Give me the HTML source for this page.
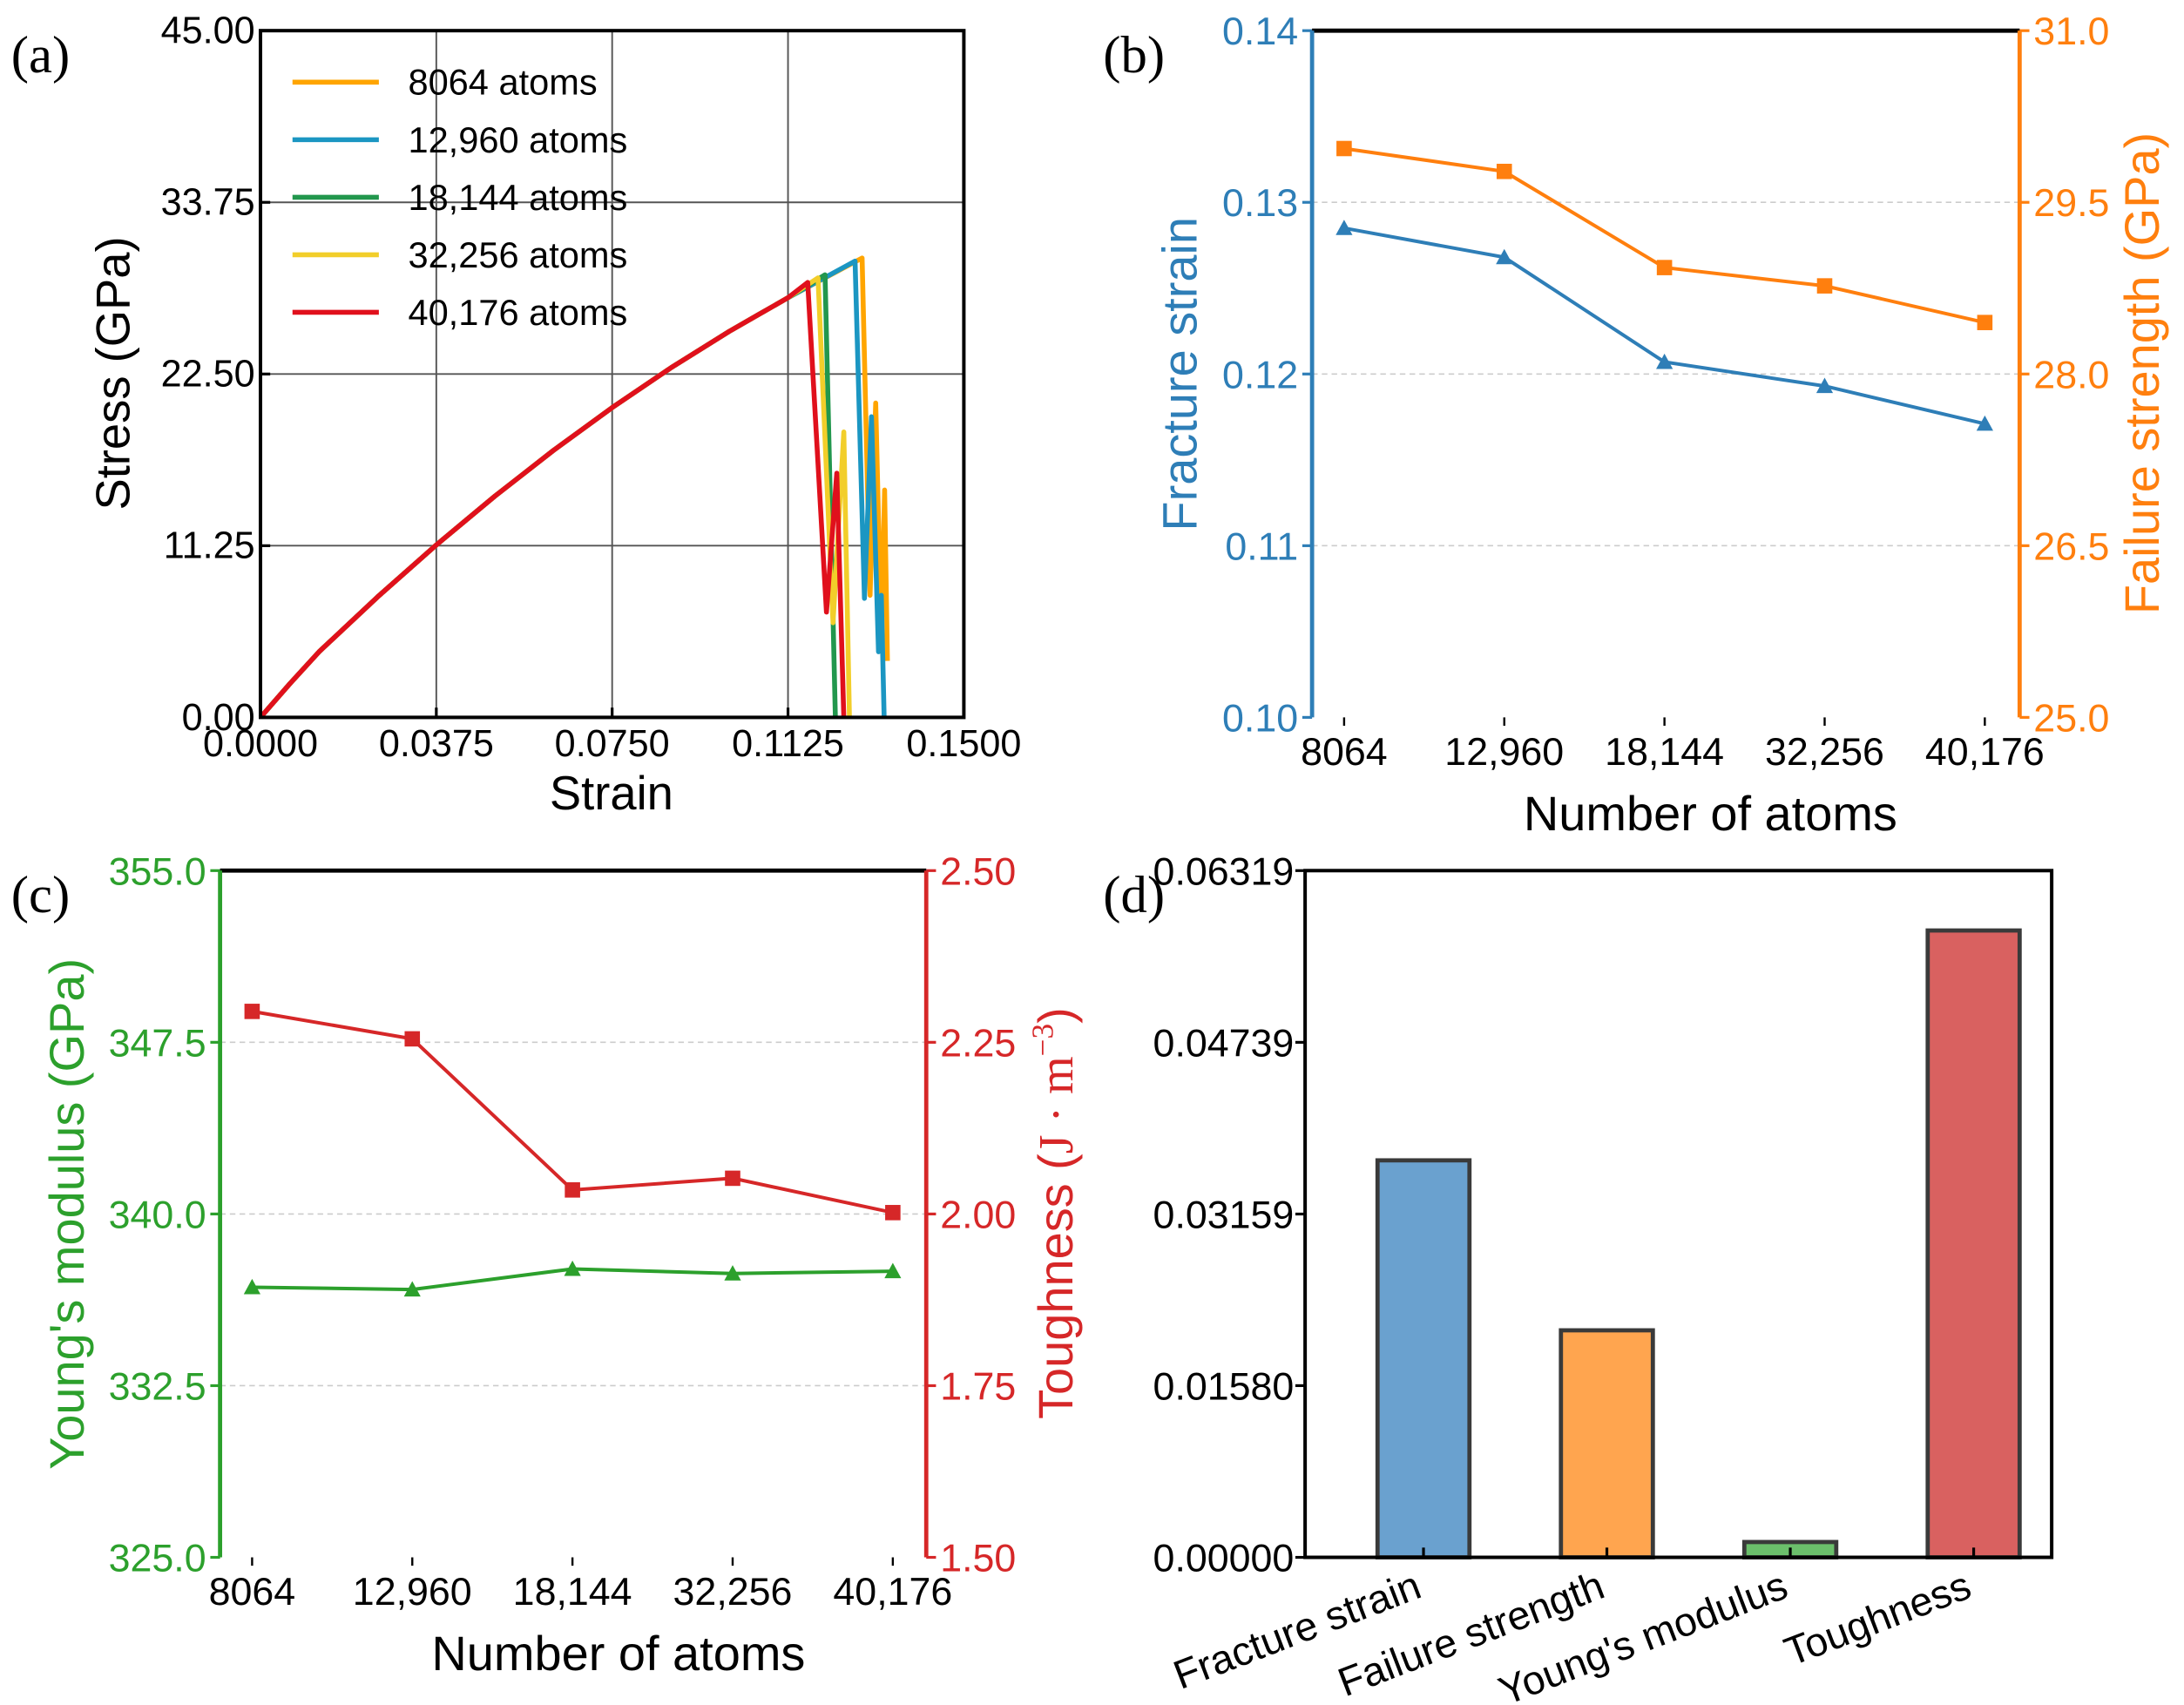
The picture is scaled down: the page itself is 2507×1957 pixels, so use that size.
<!DOCTYPE html>
<html><head><meta charset="utf-8"><style>
html,body{margin:0;padding:0;background:#fff;}
svg{display:block;font-family:"Liberation Sans",sans-serif;}
</style></head><body>
<svg id="fig" width="2507" height="1957" viewBox="0 0 1568 1224" preserveAspectRatio="none" xmlns="http://www.w3.org/2000/svg">
<g id="pa"></g>
<g id="pb"></g>
<g id="pc"></g>
<g id="pd"></g>
</svg>
<script>
// ---------- Panel (a) data ----------
const aRiseStrain = [0,0.00625,0.0125,0.01875,0.025,0.03125,0.0375,0.04375,0.05,0.05625,0.0625,0.06875,0.075,0.08125,0.0875,0.09375,0.1,0.10625,0.1125];
const aRiseStress = [0,2.2,4.3,6.1,7.9,9.6,11.3,12.9,14.5,16.0,17.5,18.9,20.3,21.6,22.9,24.1,25.3,26.4,27.5];
const aSeriesNames = ["8064 atoms","12,960 atoms","18,144 atoms","32,256 atoms","40,176 atoms"];
const aStrain8064 = [0.1283,0.1300,0.1312,0.1324,0.1331,0.1337];
const aStress8064 = [30.1,8.0,20.6,5.2,14.9,3.7];
const aStrain12960 = [0.1268,0.1288,0.1303,0.1318,0.1324,0.1330];
const aStress12960 = [29.9,7.8,19.7,4.3,8.0,0];
const aStrain18144 = [0.1204,0.1226];
const aStress18144 = [29.0,0];
const aStrain32256 = [0.1189,0.1221,0.1244,0.1256];
const aStress32256 = [28.8,6.2,18.7,0];
const aStrain40176 = [0.1167,0.1207,0.1229,0.1244];
const aStress40176 = [28.5,6.9,16.0,0];
const aXTicks = ["0.0000","0.0375","0.0750","0.1125","0.1500"];
const aYTicks = ["0.00","11.25","22.50","33.75","45.00"];
// ---------- Panel (b) data ----------
const atomCats = ["8064","12,960","18,144","32,256","40,176"];
const fractureStrain = [0.1285,0.1268,0.1207,0.1193,0.1171];
const failureStrength = [29.97,29.77,28.93,28.77,28.45];
const bLeftTicks = ["0.10","0.11","0.12","0.13","0.14"];
const bRightTicks = ["25.0","26.5","28.0","29.5","31.0"];
// ---------- Panel (c) data ----------
const youngsModulus = [336.8,336.7,337.6,337.4,337.5];
const toughness = [2.295,2.255,2.035,2.052,2.002];
const cLeftTicks = ["325.0","332.5","340.0","347.5","355.0"];
const cRightTicks = ["1.50","1.75","2.00","2.25","2.50"];
// ---------- Panel (d) data ----------
const dCats = ["Fracture strain","Failure strength","Young's modulus","Toughness"];
const dValues = [0.03653,0.02089,0.00141,0.05768];
const dTicks = ["0.00000","0.01580","0.03159","0.04739","0.06319"];

const NS="http://www.w3.org/2000/svg";
const SERIF='font-family:"Liberation Serif",serif';
function mk(parent,tag,attrs,txt){const e=document.createElementNS(NS,tag);for(const k in attrs)e.setAttribute(k,attrs[k]);if(txt!==undefined)e.textContent=txt;parent.appendChild(e);return e;}
function lin(d0,d1,r0,r1){return v=>r0+(v-d0)/(d1-d0)*(r1-r0);}

// ===== Panel A =====
(function(){
const g=document.getElementById('pa');
const L=187,R=692,T=22,B=515;
const x=lin(0,0.15,L,R), y=lin(0,45,B,T);
let e=mk(g,'text',{x:8,y:52,'font-size':38,style:SERIF},'(a)');

for(let i=0;i<aXTicks.length;i++){const v=parseFloat(aXTicks[i]);
 e=mk(g,'line',{x1:x(v),x2:x(v),y1:T,y2:B,stroke:'#555','stroke-width':1.2});
 e=mk(g,'line',{x1:x(v),x2:x(v),y1:B,y2:B-7,stroke:'#000','stroke-width':2});
 e=mk(g,'text',{x:x(v),y:B+28,'font-size':27,'text-anchor':'middle'},aXTicks[i]);}
for(let i=0;i<aYTicks.length;i++){const v=parseFloat(aYTicks[i]);
 e=mk(g,'line',{x1:L,x2:R,y1:y(v),y2:y(v),stroke:'#555','stroke-width':1.2});
 e=mk(g,'line',{x1:L,x2:L+7,y1:y(v),y2:y(v),stroke:'#000','stroke-width':2});
 e=mk(g,'text',{x:L-4,y:y(v)+9,'font-size':27,'text-anchor':'end'},aYTicks[i]);}
const colors=['#FFA500','#1B96C2','#22974D','#F2CE2A','#E0101C'];
const sx=[aStrain8064,aStrain12960,aStrain18144,aStrain32256,aStrain40176];
const sy=[aStress8064,aStress12960,aStress18144,aStress32256,aStress40176];
const names=['curve-8064','curve-12960','curve-18144','curve-32256','curve-40176'];
for(let s=0;s<5;s++){const pts=[];for(let i=0;i<aRiseStrain.length;i++)pts.push(x(aRiseStrain[i])+','+y(aRiseStress[i]));
 for(let i=0;i<sx[s].length;i++)pts.push(x(sx[s][i])+','+y(sy[s][i]));
 e=mk(g,'polyline',{points:pts.join(' '),fill:'none',stroke:colors[s],'stroke-width':3.5,'stroke-linejoin':'round'});
 }
e=mk(g,'rect',{x:L,y:T,width:R-L,height:B-T,fill:'none',stroke:'#000','stroke-width':2.5});
for(let s=0;s<5;s++){const ly=59+s*41.3;
 e=mk(g,'line',{x1:210,x2:272,y1:ly,y2:ly,stroke:colors[s],'stroke-width':3.5});
 e=mk(g,'text',{x:293,y:ly+9,'font-size':26},aSeriesNames[s]);}
e=mk(g,'text',{x:439,y:581,'font-size':34,'text-anchor':'middle'},'Strain');
e=mk(g,'text',{x:0,y:0,'font-size':34,'text-anchor':'middle',transform:'translate(93,268) rotate(-90)'},'Stress (GPa)');
})();

// ===== dual axis line panel =====
function dualPanel(gid,label,L,R,T,B,cx0,cx1,leftTicks,rightTicks,lv,rv,lc,rc,lTitle,lmark,rmark,lname,rname,lTitleX,xTitleX){
const g=document.getElementById(gid);
const lmin=parseFloat(leftTicks[0]),lmax=parseFloat(leftTicks[leftTicks.length-1]);
const rmin=parseFloat(rightTicks[0]),rmax=parseFloat(rightTicks[rightTicks.length-1]);
const yl=lin(lmin,lmax,B,T), yr=lin(rmin,rmax,B,T), x=lin(0,atomCats.length-1,cx0,cx1);
let e=mk(g,'text',{x:label[1],y:label[2],'font-size':38,style:SERIF},label[0]);

for(let i=0;i<leftTicks.length;i++){const v=parseFloat(leftTicks[i]);
 if(i>0&&i<leftTicks.length-1){e=mk(g,'line',{x1:L,x2:R,y1:yl(v),y2:yl(v),stroke:'#ccc','stroke-width':1,'stroke-dasharray':'4,3'});}
 e=mk(g,'line',{x1:L,x2:L-7,y1:yl(v),y2:yl(v),stroke:lc,'stroke-width':2});
 e=mk(g,'text',{x:L-10,y:yl(v)+10,'font-size':28,'text-anchor':'end',fill:lc},leftTicks[i]);}
for(let i=0;i<rightTicks.length;i++){const v=parseFloat(rightTicks[i]);
 e=mk(g,'line',{x1:R,x2:R+7,y1:yr(v),y2:yr(v),stroke:rc,'stroke-width':2});
 e=mk(g,'text',{x:R+10,y:yr(v)+10,'font-size':28,fill:rc},rightTicks[i]);}
for(let i=0;i<atomCats.length;i++){
 e=mk(g,'line',{x1:x(i),x2:x(i),y1:B,y2:B+6,stroke:'#000','stroke-width':1.5});
 e=mk(g,'text',{x:x(i),y:B+34,'font-size':28,'text-anchor':'middle'},atomCats[i]);}
e=mk(g,'line',{x1:L,x2:R,y1:T,y2:T,stroke:'#000','stroke-width':3});
e=mk(g,'line',{x1:L,x2:L,y1:T,y2:B,stroke:lc,'stroke-width':3});
e=mk(g,'line',{x1:R,x2:R,y1:T,y2:B,stroke:rc,'stroke-width':3});
function series(vals,ys,col,mark,name){const pts=vals.map((v,i)=>x(i)+','+ys(v)).join(' ');
 e=mk(g,'polyline',{points:pts,fill:'none',stroke:col,'stroke-width':2.5});
 vals.forEach((v,i)=>{const px=x(i),py=ys(v);
  if(mark==='tri')e=mk(g,'polygon',{points:(px-6)+','+(py+5)+' '+(px+6)+','+(py+5)+' '+px+','+(py-6),fill:col});
  else e=mk(g,'rect',{x:px-5.5,y:py-5.5,width:11,height:11,fill:col});
  });}
series(lv,yl,lc,lmark,lname);series(rv,yr,rc,rmark,rname);
e=mk(g,'text',{x:xTitleX,y:B+81,'font-size':35,'text-anchor':'middle'},'Number of atoms');
e=mk(g,'text',{x:0,y:0,'font-size':35,'text-anchor':'middle',fill:lc,transform:'translate('+lTitleX+','+(T+B)/2+') rotate(-90)'},lTitle);
}
dualPanel('pb',['(b)',792,52],942,1450,22,515,965,1425,bLeftTicks,bRightTicks,fractureStrain,failureStrength,'#2E7EB7','#FF7F0E','Fracture strain',
'tri','sq','fracture-strain','failure-strength',859,1228);
(function(){const g=document.getElementById('pb');const e=mk(g,'text',{x:0,y:0,'font-size':35,'text-anchor':'middle',fill:'#FF7F0E',transform:'translate(1550,268) rotate(-90)'},'Failure strength (GPa)');})();
dualPanel('pc',['(c)',8,655],158,665,625,1118,181,641,cLeftTicks,cRightTicks,youngsModulus,toughness,'#2CA02C','#D62728',"Young's modulus (GPa)",
'tri','sq','youngs-modulus','toughness',60,444);
(function(){const g=document.getElementById('pc');const t=mk(g,'text',{x:0,y:0,'font-size':35,'text-anchor':'middle',fill:'#D62728',transform:'translate(770,871) rotate(-90)'});

mk(t,'tspan',{},'Toughness (');mk(t,'tspan',{style:SERIF},'J · m');mk(t,'tspan',{style:SERIF,'font-size':22,dy:-14},'−3');mk(t,'tspan',{dy:14},')');})();

// ===== Panel D =====
(function(){
const g=document.getElementById('pd');
const L=937,R=1473,T=625,B=1118;
const dmax=parseFloat(dTicks[dTicks.length-1]);
const y=lin(0,dmax,B,T), x=lin(0,dCats.length-1,1022,1417);
let e=mk(g,'text',{x:792,y:655,'font-size':38,style:SERIF},'(d)');

const cols=['#6AA1CF','#FFA54F','#6BBF6B','#D96160'];
const names=['bar-fracture-strain','bar-failure-strength','bar-youngs-modulus','bar-toughness'];
for(let i=0;i<dCats.length;i++){const cx=x(i),w=66;
 e=mk(g,'rect',{x:cx-w/2,y:y(dValues[i]),width:w,height:B-y(dValues[i]),fill:cols[i],stroke:'#3a3a3a','stroke-width':3});
 
 e=mk(g,'line',{x1:cx,x2:cx,y1:B,y2:B-7,stroke:'#000','stroke-width':2});
 e=mk(g,'text',{x:0,y:0,'font-size':29,'text-anchor':'end',transform:'translate('+(cx)+','+(B+28)+') rotate(-21)'},dCats[i]);}
for(let i=0;i<dTicks.length;i++){const v=parseFloat(dTicks[i]);
 e=mk(g,'line',{x1:L,x2:L-7,y1:y(v),y2:y(v),stroke:'#000','stroke-width':2});
 e=mk(g,'text',{x:L-8,y:y(v)+10,'font-size':28,'text-anchor':'end'},dTicks[i]);}
e=mk(g,'rect',{x:L,y:T,width:R-L,height:B-T,fill:'none',stroke:'#000','stroke-width':2.5});
})();
</script>
</body></html>
